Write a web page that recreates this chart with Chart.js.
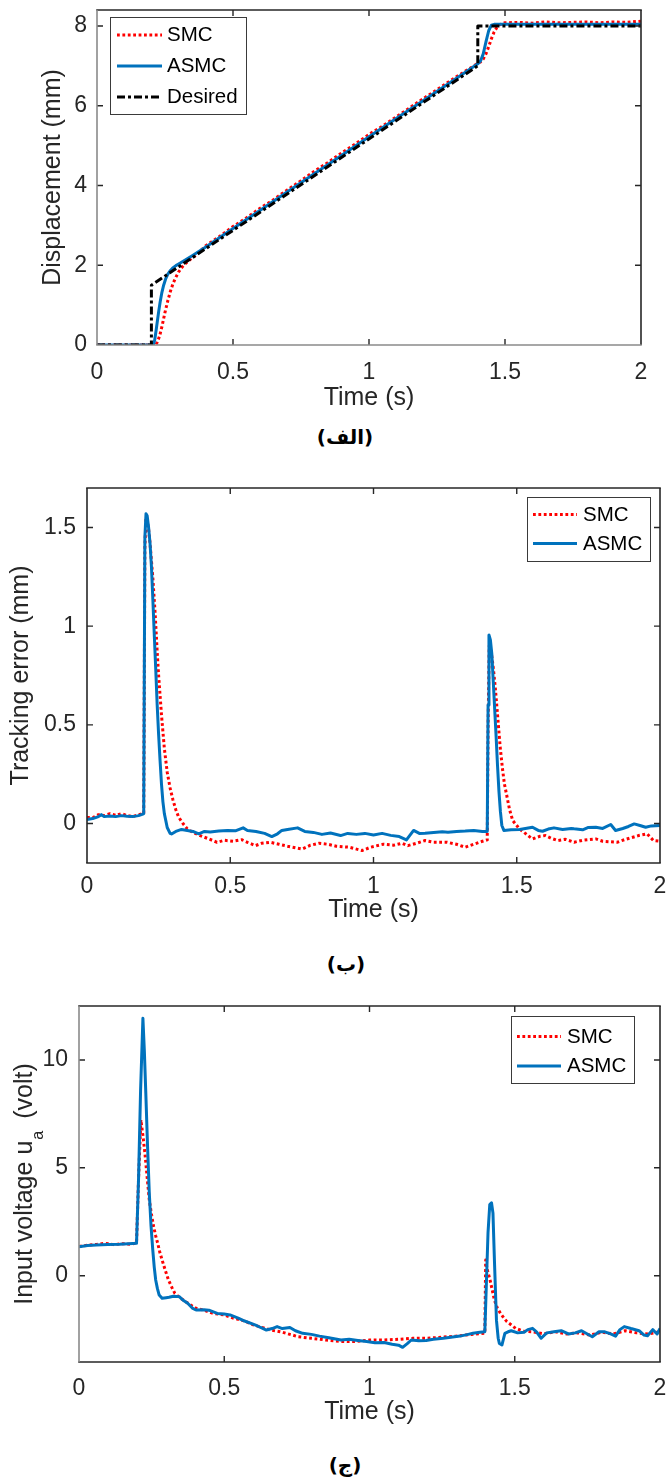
<!DOCTYPE html>
<html>
<head>
<meta charset="utf-8">
<script src="https://cdn.jsdelivr.net/npm/chart.js@4.4.1/dist/chart.umd.min.js"></script>
<style>
html,body{margin:0;padding:0;background:#fff;}
body{width:668px;height:1481px;position:relative;overflow:hidden;}
canvas{position:absolute;left:0;display:block;}
.cap{position:absolute;height:28px;line-height:28px;font-family:"DejaVu Sans",sans-serif;font-weight:bold;font-size:20px;color:#000;direction:rtl;transform:translateX(-50%);white-space:nowrap;}
</style>
</head>
<body>
<canvas id="c1" width="668" height="413" style="top:0px"></canvas>
<div class="cap" style="left:345px;top:423px">(الف)</div>
<canvas id="c2" width="668" height="455" style="top:470px"></canvas>
<div class="cap" style="left:346px;top:950px">(ب)</div>
<canvas id="c3" width="668" height="437" style="top:990px"></canvas>
<div class="cap" style="left:345px;top:1451px">(ج)</div>
<script>
// ---------------- DATA ----------------
const seriesNames = ['SMC', 'ASMC', 'Desired'];
const xTicks = [0, 0.5, 1, 1.5, 2];
const xTickLabels = ['0', '0.5', '1', '1.5', '2'];

// Panel 1: displacement (mm)
const p1YTicks = [0, 2, 4, 6, 8];
const p1YTickLabels = ['0', '2', '4', '6', '8'];
const p1TimeDesired = [0, 0.2, 0.2, 1.4, 1.4, 2.0];
const p1Desired     = [0, 0,   1.5, 7.0, 8.0, 8.0];
const p1TimeAsmc = [0, 0.207, 0.212, 0.217, 0.222, 0.227, 0.232, 0.238, 0.245, 0.252, 0.26, 0.27, 0.28, 0.29, 0.30, 0.35, 0.40, 0.50, 0.60, 0.70, 0.80, 0.90, 1.00, 1.10, 1.20, 1.30, 1.38, 1.40, 1.41, 1.42, 1.43, 1.44, 1.45, 1.46, 1.50, 1.60, 1.70, 1.80, 1.90, 2.00];
const p1Asmc     = [0, 0, 0.12, 0.35, 0.6, 0.85, 1.07, 1.3, 1.5, 1.65, 1.77, 1.87, 1.94, 1.99, 2.03, 2.24, 2.46, 2.92, 3.38, 3.84, 4.30, 4.76, 5.22, 5.68, 6.13, 6.59, 6.96, 7.05, 7.12, 7.3, 7.6, 7.88, 8.02, 8.04, 8.04, 8.04, 8.04, 8.04, 8.04, 8.04];
const p1TimeSmc = [0, 0.215, 0.22, 0.23, 0.24, 0.25, 0.26, 0.27, 0.28, 0.29, 0.30, 0.31, 0.32, 0.34, 0.37, 0.40, 0.45, 0.50, 0.55, 0.60, 0.65, 0.70, 0.75, 0.80, 0.85, 0.90, 0.95, 1.00, 1.05, 1.10, 1.15, 1.20, 1.25, 1.30, 1.35, 1.40, 1.41, 1.42, 1.43, 1.44, 1.45, 1.46, 1.47, 1.48, 1.50, 1.55, 1.60, 1.65, 1.70, 1.75, 1.80, 1.85, 1.90, 1.95, 2.00];
const p1Smc     = [0, 0, 0.05, 0.22, 0.5, 0.82, 1.1, 1.35, 1.55, 1.7, 1.83, 1.93, 2.01, 2.13, 2.29, 2.49, 2.72, 2.97, 3.19, 3.43, 3.65, 3.89, 4.12, 4.36, 4.58, 4.82, 5.04, 5.28, 5.49, 5.72, 5.95, 6.18, 6.40, 6.63, 6.85, 7.06, 7.1, 7.17, 7.3, 7.48, 7.68, 7.85, 7.96, 8.03, 8.08, 8.09, 8.07, 8.1, 8.08, 8.09, 8.1, 8.08, 8.1, 8.09, 8.12];

// Panel 2: tracking error (mm)
const p2YTicks = [0, 0.5, 1, 1.5];
const p2YTickLabels = ['0', '0.5', '1', '1.5'];
const p2TimeAsmc = [0.00, 0.02, 0.04, 0.05, 0.06, 0.08, 0.10, 0.12, 0.14, 0.16, 0.18, 0.195, 0.198, 0.202, 0.206, 0.21, 0.215, 0.22, 0.225, 0.23, 0.235, 0.24, 0.245, 0.25, 0.255, 0.26, 0.265, 0.27, 0.28, 0.29, 0.295, 0.31, 0.33, 0.35, 0.37, 0.39, 0.41, 0.43, 0.46, 0.49, 0.52, 0.545, 0.56, 0.59, 0.62, 0.645, 0.665, 0.68, 0.70, 0.735, 0.76, 0.79, 0.82, 0.85, 0.885, 0.91, 0.94, 0.97, 1.00, 1.03, 1.06, 1.09, 1.115, 1.14, 1.16, 1.18, 1.21, 1.24, 1.26, 1.29, 1.32, 1.35, 1.38, 1.397, 1.40, 1.403, 1.408, 1.413, 1.418, 1.423, 1.428, 1.433, 1.438, 1.443, 1.448, 1.455, 1.48, 1.51, 1.53, 1.555, 1.575, 1.59, 1.61, 1.63, 1.66, 1.69, 1.70, 1.73, 1.75, 1.776, 1.80, 1.828, 1.845, 1.87, 1.89, 1.91, 1.93, 1.95, 1.97, 2.00];
const p2Asmc     = [0.02, 0.025, 0.035, 0.045, 0.035, 0.038, 0.035, 0.04, 0.037, 0.035, 0.04, 0.048, 0.05, 1.45, 1.57, 1.56, 1.5, 1.42, 1.3, 1.13, 0.95, 0.78, 0.6, 0.45, 0.32, 0.2, 0.11, 0.05, -0.02, -0.05, -0.053, -0.04, -0.03, -0.035, -0.04, -0.052, -0.04, -0.043, -0.038, -0.035, -0.036, -0.022, -0.035, -0.04, -0.05, -0.066, -0.052, -0.035, -0.03, -0.022, -0.04, -0.045, -0.055, -0.048, -0.061, -0.05, -0.055, -0.05, -0.058, -0.05, -0.06, -0.066, -0.083, -0.035, -0.05, -0.049, -0.045, -0.042, -0.044, -0.04, -0.038, -0.035, -0.04, -0.04, 0.6, 0.955, 0.93, 0.86, 0.72, 0.58, 0.44, 0.29, 0.16, 0.06, -0.01, -0.035, -0.032, -0.03, -0.025, -0.019, -0.035, -0.039, -0.028, -0.022, -0.03, -0.025, -0.027, -0.032, -0.02, -0.019, -0.025, -0.005, -0.035, -0.025, -0.015, -0.002, -0.01, -0.019, -0.012, -0.01];
const p2TimeSmc = [0.00, 0.02, 0.04, 0.06, 0.08, 0.10, 0.12, 0.14, 0.16, 0.18, 0.198, 0.202, 0.206, 0.21, 0.215, 0.22, 0.225, 0.23, 0.238, 0.245, 0.25, 0.26, 0.27, 0.28, 0.29, 0.30, 0.31, 0.32, 0.335, 0.35, 0.37, 0.395, 0.42, 0.454, 0.48, 0.51, 0.54, 0.56, 0.588, 0.61, 0.64, 0.67, 0.70, 0.751, 0.78, 0.81, 0.84, 0.87, 0.915, 0.96, 0.99, 1.034, 1.07, 1.10, 1.12, 1.15, 1.18, 1.21, 1.257, 1.29, 1.32, 1.35, 1.38, 1.397, 1.40, 1.404, 1.41, 1.418, 1.425, 1.433, 1.442, 1.45, 1.457, 1.464, 1.475, 1.486, 1.50, 1.509, 1.53, 1.554, 1.58, 1.60, 1.62, 1.643, 1.67, 1.70, 1.73, 1.776, 1.80, 1.85, 1.88, 1.925, 1.955, 1.977, 2.00];
const p2Smc     = [0.03, 0.03, 0.045, 0.04, 0.05, 0.042, 0.05, 0.04, 0.035, 0.045, 0.05, 1.4, 1.55, 1.54, 1.49, 1.42, 1.33, 1.24, 1.06, 0.87, 0.75, 0.55, 0.38, 0.26, 0.18, 0.12, 0.07, 0.032, 0.0, -0.027, -0.045, -0.061, -0.075, -0.095, -0.085, -0.09, -0.082, -0.095, -0.112, -0.1, -0.095, -0.105, -0.115, -0.129, -0.11, -0.1, -0.105, -0.115, -0.12, -0.137, -0.12, -0.105, -0.11, -0.1, -0.112, -0.1, -0.086, -0.095, -0.095, -0.105, -0.12, -0.105, -0.09, -0.083, 0.5, 0.9, 0.88, 0.79, 0.69, 0.55, 0.39, 0.28, 0.2, 0.15, 0.07, 0.015, -0.01, -0.027, -0.05, -0.078, -0.065, -0.061, -0.075, -0.086, -0.08, -0.095, -0.085, -0.078, -0.09, -0.095, -0.08, -0.061, -0.052, -0.086, -0.09];

// Panel 3: input voltage (volt)
const p3YTicks = [0, 5, 10];
const p3YTickLabels = ['0', '5', '10'];
const p3TimeAsmc = [0.00, 0.03, 0.06, 0.10, 0.14, 0.17, 0.198, 0.205, 0.212, 0.22, 0.225, 0.23, 0.236, 0.242, 0.248, 0.254, 0.259, 0.264, 0.27, 0.276, 0.286, 0.30, 0.31, 0.325, 0.345, 0.36, 0.374, 0.39, 0.403, 0.43, 0.447, 0.476, 0.50, 0.52, 0.55, 0.57, 0.608, 0.625, 0.645, 0.665, 0.682, 0.70, 0.726, 0.745, 0.77, 0.80, 0.828, 0.86, 0.902, 0.93, 0.96, 0.99, 1.019, 1.05, 1.078, 1.10, 1.114, 1.13, 1.144, 1.17, 1.195, 1.22, 1.254, 1.28, 1.312, 1.34, 1.356, 1.38, 1.397, 1.402, 1.408, 1.414, 1.42, 1.425, 1.43, 1.437, 1.443, 1.447, 1.456, 1.466, 1.477, 1.488, 1.51, 1.532, 1.545, 1.561, 1.575, 1.591, 1.61, 1.635, 1.66, 1.685, 1.708, 1.73, 1.75, 1.767, 1.79, 1.81, 1.83, 1.847, 1.862, 1.877, 1.90, 1.928, 1.945, 1.957, 1.975, 1.99, 2.00];
const p3Asmc     = [1.34, 1.40, 1.42, 1.45, 1.46, 1.48, 1.5, 4.5, 8.6, 11.93, 10.4, 8.45, 6.0, 3.82, 2.3, 1.19, 0.4, -0.2, -0.6, -0.9, -1.05, -1.02, -1.0, -0.95, -0.97, -1.15, -1.28, -1.5, -1.59, -1.58, -1.6, -1.75, -1.78, -1.82, -1.98, -2.1, -2.29, -2.4, -2.52, -2.45, -2.36, -2.45, -2.4, -2.55, -2.67, -2.72, -2.8, -2.88, -2.98, -2.95, -3.0, -3.05, -3.11, -3.1, -3.18, -3.22, -3.32, -3.15, -2.98, -3.02, -3.0, -2.95, -2.9, -2.85, -2.8, -2.72, -2.67, -2.62, -2.6, -0.5, 2.0, 3.3, 3.38, 2.9, 0.73, -2.06, -2.9, -3.14, -3.21, -2.67, -2.6, -2.55, -2.65, -2.62, -2.5, -2.44, -2.6, -2.9, -2.65, -2.6, -2.55, -2.7, -2.65, -2.55, -2.7, -2.83, -2.6, -2.6, -2.7, -2.8, -2.5, -2.36, -2.45, -2.55, -2.75, -2.78, -2.5, -2.7, -2.45];
const p3TimeSmc = [0.00, 0.03, 0.06, 0.09, 0.12, 0.15, 0.18, 0.198, 0.205, 0.213, 0.22, 0.227, 0.235, 0.242, 0.25, 0.257, 0.264, 0.271, 0.278, 0.286, 0.297, 0.308, 0.32, 0.33, 0.345, 0.359, 0.38, 0.403, 0.43, 0.462, 0.50, 0.535, 0.57, 0.60, 0.63, 0.66, 0.70, 0.755, 0.80, 0.85, 0.90, 0.95, 1.00, 1.05, 1.10, 1.15, 1.20, 1.25, 1.30, 1.35, 1.397, 1.40, 1.405, 1.415, 1.43, 1.44, 1.451, 1.462, 1.473, 1.49, 1.503, 1.53, 1.561, 1.60, 1.64, 1.68, 1.72, 1.76, 1.80, 1.84, 1.88, 1.92, 1.96, 2.00];
const p3Smc     = [1.35, 1.42, 1.45, 1.5, 1.44, 1.48, 1.46, 1.52, 4.5, 7.22, 6.5, 5.67, 4.5, 3.51, 2.8, 2.27, 1.85, 1.5, 1.1, 0.73, 0.25, -0.2, -0.55, -0.82, -1.0, -1.13, -1.32, -1.51, -1.6, -1.75, -1.82, -1.98, -2.1, -2.28, -2.4, -2.52, -2.62, -2.83, -2.9, -2.98, -3.05, -3.05, -2.98, -2.98, -2.95, -2.9, -2.9, -2.85, -2.8, -2.72, -2.67, 0.73, 0.3, -0.2, -1.13, -1.5, -1.75, -1.95, -2.13, -2.3, -2.44, -2.58, -2.6, -2.7, -2.6, -2.7, -2.65, -2.75, -2.62, -2.7, -2.55, -2.65, -2.7, -2.6];

// ---------------- RENDERING ----------------
const FONT = '"Liberation Sans", Arial, Helvetica, sans-serif';
const DARK = '#262626';
const GRAY = '#8a8a8a';
const STYLE = {
  SMC:     {color: '#ff0000', width: 3, dash: [2.8, 2.6], order: 3},
  ASMC:    {color: '#0072bd', width: 3, dash: [], order: 2},
  Desired: {color: '#000000', width: 3, dash: [8, 3, 3, 3], order: 1}
};
function zip(ts, vs) { return ts.map((t, i) => ({x: t, y: vs[i]})); }

const framePlugin = {
  id: 'frame',
  afterDatasetsDraw(chart, args, o) {
    const {ctx, chartArea: a, scales: {x, y}} = chart;
    ctx.save();
    const TL = 6;
    ctx.lineWidth = 1.4;
    ctx.strokeStyle = DARK;
    ctx.beginPath();
    x.ticks.forEach(t => {
      const px = x.getPixelForValue(t.value);
      if (px <= a.left + 1 || px >= a.right - 1) return;
      ctx.moveTo(px, a.bottom); ctx.lineTo(px, a.bottom - TL);
      ctx.moveTo(px, a.top); ctx.lineTo(px, a.top + TL);
    });
    y.ticks.forEach(t => {
      const py = y.getPixelForValue(t.value);
      if (py <= a.top + 1 || py >= a.bottom - 1) return;
      ctx.moveTo(a.left, py); ctx.lineTo(a.left + TL, py);
      ctx.moveTo(a.right, py); ctx.lineTo(a.right - TL, py);
    });
    ctx.stroke();
    const edge = (c, x1, y1, x2, y2) => {
      ctx.strokeStyle = c; ctx.lineWidth = 1.6;
      ctx.beginPath(); ctx.moveTo(x1, y1); ctx.lineTo(x2, y2); ctx.stroke();
    };
    edge(o.edges[0], a.left - 0.8, a.top, a.right + 0.8, a.top);
    edge(o.edges[1], a.right, a.top, a.right, a.bottom);
    edge(o.edges[2], a.left - 0.8, a.bottom, a.right + 0.8, a.bottom);
    edge(o.edges[3], a.left, a.top, a.left, a.bottom);

    // legend
    const L = o.legend;
    ctx.fillStyle = '#fff';
    ctx.fillRect(L.x, L.y, L.w, L.h);
    ctx.strokeStyle = '#3a3a3a'; ctx.lineWidth = 1;
    ctx.strokeRect(L.x + 0.5, L.y + 0.5, L.w, L.h);
    ctx.font = '20.5px ' + FONT;
    ctx.textBaseline = 'middle';
    ctx.textAlign = 'left';
    chart.data.datasets.forEach((ds, i) => {
      const ry = L.rows[i];
      ctx.strokeStyle = ds.borderColor; ctx.lineWidth = ds.borderWidth;
      ctx.setLineDash(ds.borderDash || []);
      ctx.beginPath(); ctx.moveTo(L.s1, ry); ctx.lineTo(L.s2, ry); ctx.stroke();
      ctx.setLineDash([]);
      ctx.fillStyle = '#000';
      ctx.fillText(ds.label, L.tx, ry + 0.5);
    });

    // custom y title with subscript
    if (o.yTitle) {
      const T = o.yTitle;
      const cy = (a.top + a.bottom) / 2;
      ctx.save();
      ctx.translate(T.x, cy);
      ctx.rotate(-Math.PI / 2);
      ctx.fillStyle = DARK;
      ctx.textBaseline = 'alphabetic';
      ctx.font = '25px ' + FONT;
      const w1 = ctx.measureText(T.main).width;
      const w3 = ctx.measureText(T.unit).width;
      ctx.font = '16px ' + FONT;
      const w2 = ctx.measureText(T.sub).width;
      const total = w1 + 1 + w2 + T.gap + w3;
      let sx = -total / 2;
      ctx.font = '25px ' + FONT;
      ctx.fillText(T.main, sx, 0);
      ctx.font = '16px ' + FONT;
      ctx.fillText(T.sub, sx + w1 + 1, T.drop);
      ctx.font = '25px ' + FONT;
      ctx.fillText(T.unit, sx + w1 + 1 + w2 + T.gap, 0);
      ctx.restore();
    }
    ctx.restore();
  }
};

function makeChart(id, cfg) {
  const datasets = cfg.series.map(s => {
    const st = STYLE[s.name];
    return {
      label: s.name, data: zip(s.t, s.v), showLine: true,
      borderColor: st.color, backgroundColor: st.color, borderWidth: st.width,
      borderDash: st.dash, pointRadius: 0, pointHoverRadius: 0, fill: false,
      tension: 0, order: st.order, borderCapStyle: 'butt', borderJoinStyle: 'round'
    };
  });
  return new Chart(document.getElementById(id), {
    type: 'scatter',
    data: {datasets},
    plugins: [framePlugin],
    options: {
      responsive: false, animation: false, devicePixelRatio: 1, events: [],
      layout: {padding: {left: 0, top: cfg.padTop, right: cfg.padRight, bottom: 0}},
      plugins: {
        legend: {display: false}, tooltip: {enabled: false},
        frame: {edges: cfg.edges, legend: cfg.legend, yTitle: cfg.yTitleCustom || null}
      },
      scales: {
        x: {
          type: 'linear', min: 0, max: 2,
          afterBuildTicks: s => { s.ticks = xTicks.map(v => ({value: v})); },
          afterFit: s => { s.height = cfg.xH; s.paddingLeft = 0; s.paddingRight = 0; s.paddingTop = 0; s.paddingBottom = 0; },
          ticks: {callback: v => xTickLabels[xTicks.indexOf(v)], font: {family: FONT, size: 23}, color: DARK,
                  padding: cfg.xPad, maxRotation: 0, minRotation: 0, autoSkip: false},
          grid: {display: false, drawTicks: false}, border: {display: false},
          title: {display: true, text: 'Time (s)', font: {family: FONT, size: 25}, color: DARK, padding: 0}
        },
        y: {
          type: 'linear', min: cfg.yMin, max: cfg.yMax,
          afterBuildTicks: s => { s.ticks = cfg.yTicks.map(v => ({value: v})); },
          afterFit: s => { s.width = cfg.yW; s.paddingTop = 0; s.paddingBottom = 0; s.paddingLeft = 0; s.paddingRight = 0; },
          ticks: {callback: v => cfg.yLabels[cfg.yTicks.indexOf(v)], font: {family: FONT, size: 23}, color: DARK,
                  padding: cfg.yPad, autoSkip: false},
          grid: {display: false, drawTicks: false}, border: {display: false},
          title: {display: !!cfg.yTitle, text: cfg.yTitle || '', font: {family: FONT, size: 25}, color: DARK,
                  padding: {top: cfg.yTitlePad, bottom: 0}}
        }
      }
    }
  });
}

makeChart('c1', {
  series: [
    {name: seriesNames[0], t: p1TimeSmc, v: p1Smc},
    {name: seriesNames[1], t: p1TimeAsmc, v: p1Asmc},
    {name: seriesNames[2], t: p1TimeDesired, v: p1Desired}
  ],
  yMin: 0, yMax: 8.4, yTicks: p1YTicks, yLabels: p1YTickLabels,
  padTop: 10, padRight: 27, yW: 97, xH: 68, xPad: 14, yPad: 10,
  yTitle: 'Displacement (mm)', yTitlePad: 38,
  edges: [DARK, DARK, GRAY, GRAY],
  legend: {x: 110, y: 17, w: 136, h: 97, rows: [35, 66, 97], s1: 117, s2: 162, tx: 167}
});

makeChart('c2', {
  series: [
    {name: seriesNames[0], t: p2TimeSmc, v: p2Smc},
    {name: seriesNames[1], t: p2TimeAsmc, v: p2Asmc}
  ],
  yMin: -0.2, yMax: 1.7, yTicks: p2YTicks, yLabels: p2YTickLabels,
  padTop: 18, padRight: 8, yW: 87, xH: 62, xPad: 10, yPad: 11,
  yTitle: 'Tracking error (mm)', yTitlePad: 6,
  edges: [DARK, DARK, DARK, DARK],
  legend: {x: 527, y: 27, w: 123, h: 64, rows: [44.5, 73.5], s1: 533, s2: 577, tx: 583}
});

makeChart('c3', {
  series: [
    {name: seriesNames[0], t: p3TimeSmc, v: p3Smc},
    {name: seriesNames[1], t: p3TimeAsmc, v: p3Asmc}
  ],
  yMin: -4, yMax: 12.5, yTicks: p3YTicks, yLabels: p3YTickLabels,
  padTop: 16, padRight: 8, yW: 79, xH: 65, xPad: 13, yPad: 11,
  yTitle: null, yTitlePad: 0,
  yTitleCustom: {x: 32, main: 'Input voltage u', sub: 'a', unit: '(volt)', gap: 12, drop: 11},
  edges: [DARK, DARK, DARK, GRAY],
  legend: {x: 511, y: 26, w: 123, h: 67, rows: [46.5, 76], s1: 517, s2: 561, tx: 567}
});
</script>
</body>
</html>
